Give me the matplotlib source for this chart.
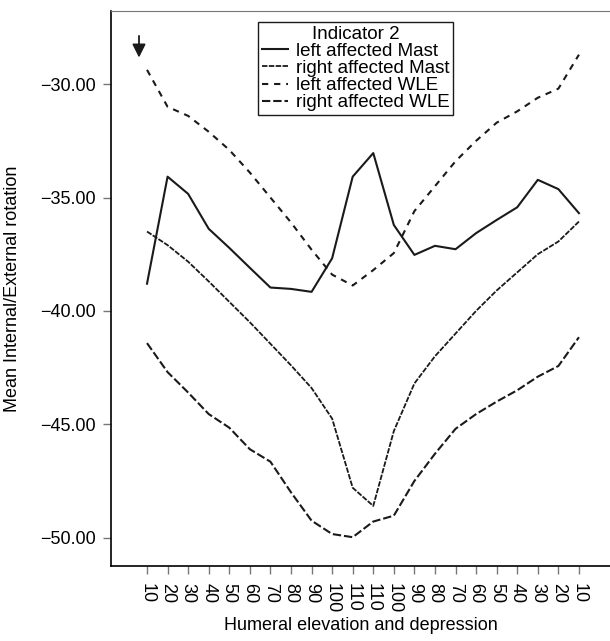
import matplotlib

matplotlib.use("Agg")
import matplotlib.pyplot as plt
import numpy as np

plt.rcParams["font.family"] = ["Liberation Sans", "DejaVu Sans"]
plt.rcParams["axes.unicode_minus"] = True

# humeral elevation (up to 110) and depression (back down to 10)
angles = [10, 20, 30, 40, 50, 60, 70, 80, 90, 100, 110,
          110, 100, 90, 80, 70, 60, 50, 40, 30, 20, 10]

left_mast = [-38.80, -34.08, -34.84, -36.38, -37.22, -38.10, -38.97, -39.03,
             -39.16, -37.68, -34.08, -33.04, -36.21, -37.53, -37.13, -37.28,
             -36.57, -35.99, -35.43, -34.22, -34.63, -35.69]
right_mast = [-36.50, -37.10, -37.83, -38.70, -39.60, -40.50, -41.45, -42.40,
              -43.40, -44.75, -47.80, -48.60, -45.30, -43.20, -42.00, -41.00,
              -40.00, -39.10, -38.30, -37.50, -36.94, -36.06]
left_wle = [-29.37, -31.00, -31.40, -32.10, -32.90, -33.90, -35.00, -36.10,
            -37.30, -38.40, -38.88, -38.20, -37.45, -35.60, -34.50, -33.40,
            -32.50, -31.70, -31.20, -30.60, -30.20, -28.70]
right_wle = [-41.42, -42.70, -43.60, -44.55, -45.15, -46.10, -46.65, -48.00,
             -49.25, -49.84, -49.98, -49.29, -49.03, -47.50, -46.30, -45.20,
             -44.55, -44.00, -43.50, -42.90, -42.43, -41.16]

yticks = [-30.0, -35.0, -40.0, -45.0, -50.0]

x = np.arange(1, len(angles) + 1)

fig = plt.figure(figsize=(6.1, 6.41), dpi=100)
ax = fig.add_axes([0.182, 0.117, 0.818, 0.866])

ax.plot(x, left_mast, color="#1a1a1a", lw=1.5, ls="-", label="left affected Mast")
ax.plot(x, right_mast, color="#1a1a1a", lw=1.3, ls=(0, (3.0, 0.8)),
        label="right affected Mast")
ax.plot(x, left_wle, color="#1a1a1a", lw=1.5, ls=(0, (3.0, 2.8)),
        label="left affected WLE")
ax.plot(x, right_wle, color="#1a1a1a", lw=1.5, ls=(0, (4.0, 1.4)),
        label="right affected WLE")

# arrow marking the start of elevation
ax.annotate("", xy=(0.61, -28.95), xytext=(0.61, -27.75),
            arrowprops=dict(arrowstyle="-|>", color="#1a1a1a", lw=1.3,
                            mutation_scale=20))

ax.set_xlim(-0.75, 23.51)
ax.set_ylim(-51.25, -26.77)
ax.set_xticks(x)
ax.set_xticklabels([str(a) for a in angles], rotation=-90, fontsize=13)
ax.set_yticks(yticks)
ax.set_yticklabels([f"{v:.2f}".replace("-", "\u2212") for v in yticks], fontsize=13)
ax.tick_params(axis="both", length=6, width=1, color="#777777")
ax.tick_params(axis="x", pad=6)
ax.tick_params(axis="y", pad=5)

ax.spines["right"].set_visible(False)
ax.spines["top"].set_color("#777777")
ax.spines["left"].set_linewidth(1.2)
ax.spines["bottom"].set_linewidth(1.2)

ax.set_xlabel("Humeral elevation and depression", fontsize=13, labelpad=3)
ax.set_ylabel("Mean Internal/External rotation", fontsize=13, labelpad=14)

leg = ax.legend(title="Indicator 2", loc="upper left", bbox_to_anchor=(0.2946, 0.98),
                borderaxespad=0, fontsize=13.5, title_fontsize=13.5,
                handlelength=1.4, handletextpad=0.4, labelspacing=0.0,
                borderpad=0.2, fancybox=False, framealpha=1, edgecolor="#1a1a1a")
leg.get_frame().set_linewidth(1.0)

fig.savefig("out.png", dpi=100)
